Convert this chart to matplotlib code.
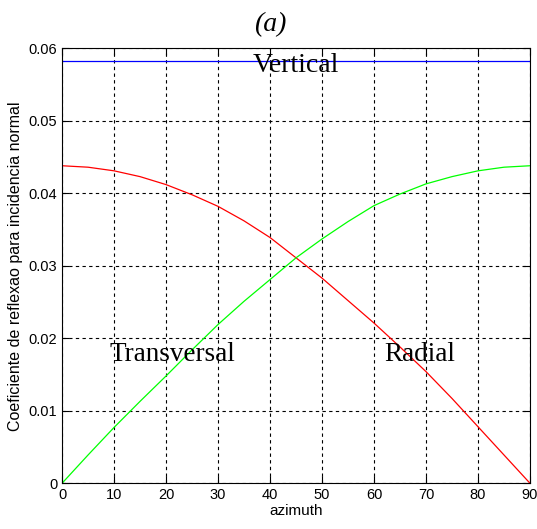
import matplotlib.pyplot as plt
import numpy as np

# azimute (graus) e coeficientes
azimuth = [0, 5, 10, 15, 20, 25, 30, 35, 40, 45, 50, 55, 60, 65, 70, 75, 80, 85, 90]
radial = [0.0438, 0.0436, 0.0431, 0.0423, 0.0412, 0.0398, 0.0382, 0.0362, 0.0339, 0.0311,
          0.0283, 0.0252, 0.0221, 0.0188, 0.0154, 0.0117, 0.0078, 0.0039, 0.0]
transversal = [0.0, 0.0039, 0.0077, 0.0113, 0.0148, 0.0184, 0.0219, 0.0251, 0.0281, 0.0311,
               0.0337, 0.0361, 0.0383, 0.0399, 0.0413, 0.0423, 0.0431, 0.0436, 0.0438]
vertical = [0.0582] * len(azimuth)

fig = plt.figure(figsize=(5.37, 5.29), dpi=100)
ax = fig.add_axes([0.1155, 0.0864, 0.8715, 0.8223])

ax.plot(azimuth, vertical, color='#0000ff', lw=0.9)
ax.plot(azimuth, radial, color='#ff0000', lw=0.9)
ax.plot(azimuth, transversal, color='#00ff00', lw=0.9)

ax.set_xlim(0, 90)
ax.set_ylim(0, 0.06)
ax.set_xticks(range(0, 91, 10))
ax.set_yticks([0, 0.01, 0.02, 0.03, 0.04, 0.05, 0.06])
ax.set_yticklabels(['0', '0.01', '0.02', '0.03', '0.04', '0.05', '0.06'])
ax.tick_params(direction='in', top=True, right=True, labelsize=10.5, length=5)
for lab in ax.get_xticklabels() + ax.get_yticklabels():
    lab.set_family('Liberation Sans')
ax.grid(True, color='black', linestyle=(0, (3, 3)), lw=0.8)
for s in ax.spines.values():
    s.set_linewidth(0.8)

ax.set_xlabel('azimuth', family='Liberation Sans', fontsize=11, labelpad=1)
ax.set_ylabel('Coeficiente de reflexao para incidencia normal', family='Liberation Sans',
              fontsize=11.5, labelpad=4)

ax.text(45, 0.0567, 'Vertical', family='Liberation Serif', fontsize=20, ha='center', va='baseline')
ax.text(9.2, 0.0168, 'Transversal', family='Liberation Serif', fontsize=19.5, va='baseline')
ax.text(62, 0.0168, 'Radial', family='Liberation Serif', fontsize=19.5, va='baseline')

fig.text(0.503, 0.93, '(a)', family='Liberation Serif', style='italic', fontsize=20,
         ha='center', va='bottom')

fig.savefig('out.png', dpi=100)
